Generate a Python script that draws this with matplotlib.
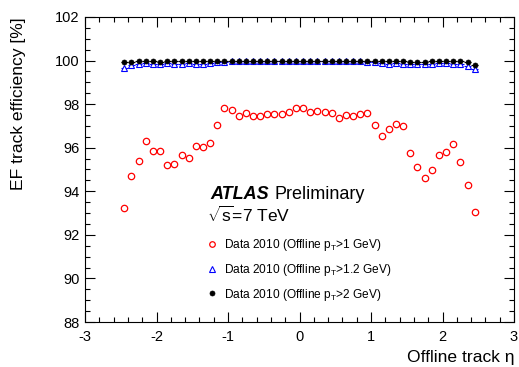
import numpy as np
import matplotlib
matplotlib.use("Agg")
import matplotlib.pyplot as plt
from matplotlib.ticker import MultipleLocator
from matplotlib.lines import Line2D

plt.rcParams['font.family'] = ['Liberation Sans', 'DejaVu Sans']
plt.rcParams['mathtext.fontset'] = 'custom'
plt.rcParams['mathtext.rm'] = 'Liberation Sans'
plt.rcParams['mathtext.it'] = 'Liberation Sans:italic'
plt.rcParams['axes.unicode_minus'] = False

eta = [-2.45 + 0.1 * i for i in range(50)]

eff_pt1 = [93.25, 94.70, 95.37, 96.30, 95.85, 95.85, 95.22, 95.27, 95.65, 95.54,
           96.06, 96.05, 96.20, 97.05, 97.80, 97.74, 97.46, 97.60, 97.46, 97.46,
           97.53, 97.53, 97.53, 97.65, 97.81, 97.80, 97.63, 97.69, 97.65, 97.59,
           97.36, 97.51, 97.46, 97.53, 97.60, 97.05, 96.52, 96.85, 97.11, 97.00,
           95.76, 95.12, 94.61, 94.98, 95.68, 95.80, 96.15, 95.33, 94.28, 93.03]

eff_pt12 = [99.65, 99.80, 99.85, 99.90, 99.86, 99.86, 99.90, 99.84, 99.86, 99.88,
            99.84, 99.86, 99.90, 99.92, 99.95, 99.96, 99.97, 99.97, 99.97, 99.97,
            99.97, 99.97, 99.97, 99.97, 99.97, 99.97, 99.97, 99.97, 99.97, 99.97,
            99.97, 99.97, 99.96, 99.96, 99.95, 99.92, 99.90, 99.86, 99.88, 99.84,
            99.86, 99.84, 99.82, 99.85, 99.87, 99.88, 99.86, 99.85, 99.76, 99.62]

eff_pt2 = [99.92, 99.95, 99.98, 99.98, 99.97, 99.93, 99.97, 99.97, 99.98, 99.97,
           99.97, 99.98, 99.97, 99.98, 99.99, 99.99, 99.99, 99.99, 99.99, 99.99,
           99.99, 99.99, 99.99, 99.99, 99.99, 99.99, 99.99, 99.99, 99.99, 99.99,
           99.99, 99.99, 99.99, 99.99, 99.99, 99.98, 99.98, 99.97, 99.97, 99.96,
           99.94, 99.95, 99.92, 99.96, 99.97, 99.98, 99.97, 99.96, 99.95, 99.80]

labels = ["Data 2010 (Offline p$_{\\mathrm{T}}$>1 GeV)",
          "Data 2010 (Offline p$_{\\mathrm{T}}$>1.2 GeV)",
          "Data 2010 (Offline p$_{\\mathrm{T}}$>2 GeV)"]

fig = plt.figure(figsize=(5.19, 3.67), dpi=100)
ax = fig.add_axes([0.1638, 0.1226, 0.8266, 0.8311])

ax.plot(eta, eff_pt1, 'o', mfc='white', mec='red', ms=4.6, mew=0.9, ls='none')
ax.errorbar(eta, eff_pt12, xerr=0.05, fmt='^', mfc='white', mec='blue', ecolor='blue',
            ms=4.3, mew=0.8, elinewidth=0.8, capsize=0)
ax.errorbar(eta, eff_pt2, xerr=0.05, fmt='o', mfc='black', mec='black', ecolor='black',
            ms=3.6, mew=0.5, elinewidth=0.8, capsize=0)

ax.set_xlim(-3, 3)
ax.set_ylim(88, 102)
ax.xaxis.set_major_locator(MultipleLocator(1))
ax.xaxis.set_minor_locator(MultipleLocator(0.2))
ax.yaxis.set_major_locator(MultipleLocator(2))
ax.yaxis.set_minor_locator(MultipleLocator(0.5))
ax.tick_params(which='both', direction='in', top=True, right=True, labelsize=10.5, width=0.8)
ax.tick_params(which='major', length=7)
ax.tick_params(which='minor', length=3.5)
ax.tick_params(axis='x', which='major', pad=6)
ax.tick_params(axis='y', which='major', pad=4)
for s in ax.spines.values():
    s.set_linewidth(0.8)

ax.set_ylabel("EF track efficiency [%]", fontsize=12.6, loc='top')
ax.yaxis.set_label_coords(-0.137, 1.0)
ax.set_xlabel("Offline track η", fontsize=12.6, loc='right')
ax.xaxis.set_label_coords(1.0, -0.092)

ax.text(0.293, 0.403, "ATLAS", transform=ax.transAxes, fontsize=13,
        fontweight='bold', fontstyle='italic')
ax.text(0.4406, 0.403, "Preliminary", transform=ax.transAxes, fontsize=13)
ax.text(0.284, 0.329, "$\\sqrt{\\mathrm{s}}$=7 TeV", transform=ax.transAxes, fontsize=12.5)

handles = [
    Line2D([], [], marker='o', ls='none', mfc='white', mec='red', ms=4.0, mew=0.9),
    Line2D([], [], marker='^', ls='none', mfc='white', mec='blue', ms=4.0, mew=0.8),
    Line2D([], [], marker='o', ls='none', mfc='black', mec='black', ms=3.6, mew=0.5),
]
ax.legend(handles, labels, loc='upper left', bbox_to_anchor=(0.27, 0.297), frameon=False,
          fontsize=8.6, handlelength=0.8, handletextpad=0.6, labelspacing=0.72,
          borderpad=0)

fig.savefig("out.png", dpi=100)
